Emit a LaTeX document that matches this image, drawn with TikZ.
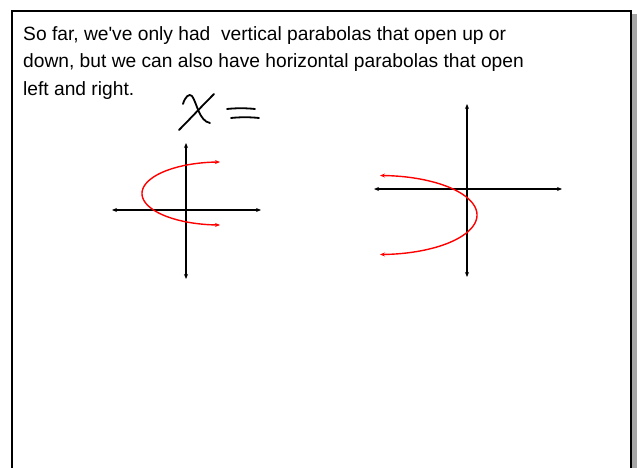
\documentclass[tikz,border=0pt]{standalone}
\usepackage{fontspec}
\setmainfont{Liberation Sans}
\usetikzlibrary{arrows.meta}
\begin{document}
\begin{tikzpicture}[x=1pt,y=-1pt,
  axis/.style={line width=1.2pt,{Stealth[length=5pt,width=4pt]}-{Stealth[length=5pt,width=4pt]}},
  curve/.style={red,line width=1.4pt,{Stealth[length=5pt,width=4pt]}-{Stealth[length=5pt,width=4pt]}},
  hand/.style={line width=1.8pt,line cap=round,line join=round},
  txt/.style={font=\fontsize{19.2}{27.5}\selectfont,align=left,inner sep=0pt,anchor=north west}]
\useasboundingbox (0,0) rectangle (637,468);
% frame and shadow
\fill[gray!70] (632,14) rectangle (637,470);
\draw[line width=2pt] (12,11) rectangle (631,480);
% text
\node[txt] (t) at (23,26) {So far, we\textquotesingle ve only had\ \ vertical parabolas that open up or\\down, but we can also have horizontal parabolas that open\\left and right.};
% handwritten x =
\draw[hand] (183,104) .. controls (185,97) and (189,93) .. (192,96) .. controls (197,103) and (199,121) .. (210,123);
\draw[hand] (214,94) .. controls (200,108) and (190,119) .. (179,130);
\draw[hand] (227,109) .. controls (236,108) and (246,108) .. (255,109);
\draw[hand] (231,118) .. controls (240,117) and (250,117) .. (259,118);
% left graph
\coordinate (la) at (112,210); \coordinate (lb) at (261,210);
\coordinate (lc) at (186,143); \coordinate (ld) at (186,279);
\draw[axis] (la) -- (lb);
\draw[axis] (lc) -- (ld);
\draw[curve] plot[domain=90:270,samples=72,smooth] ({220+78*cos(\x)},{193.5-31.5*sin(\x)});
% right graph
\coordinate (ra) at (374,189); \coordinate (rb) at (562,189);
\coordinate (rc) at (467,104); \coordinate (rd) at (467,277);
\draw[axis] (ra) -- (rb);
\draw[axis] (rc) -- (rd);
\draw[curve] plot[domain=90:-90,samples=72,smooth] ({380+97*cos(\x)},{215-39.5*sin(\x)});
\end{tikzpicture}
\end{document}
